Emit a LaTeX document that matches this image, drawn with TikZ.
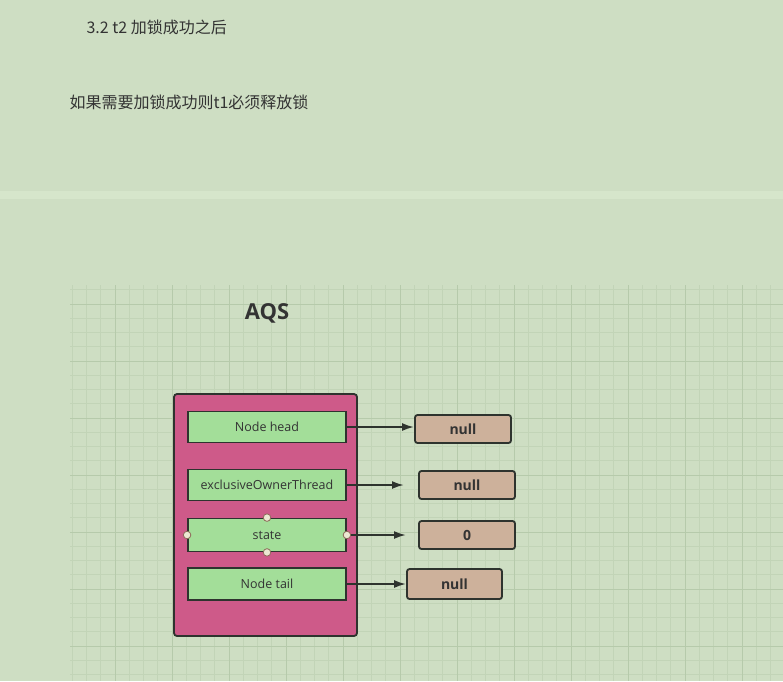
\documentclass[tikz,border=0pt]{standalone}
\usepackage{fontspec}
\setmainfont{Open Sans}
\newfontfamily\cjk{Noto Sans CJK SC}
\usetikzlibrary{arrows.meta}

\definecolor{paper}{HTML}{CEDEC3}
\definecolor{band}{HTML}{D6E6CB}
\definecolor{gridminor}{HTML}{C2D4B7}
\definecolor{gridmajor}{HTML}{B6CAAB}
\definecolor{linedark}{HTML}{2E332E}
\definecolor{textgray}{HTML}{333333}
\definecolor{aqspink}{HTML}{CE5A89}
\definecolor{fieldgreen}{HTML}{A3DE99}
\definecolor{valtan}{HTML}{CDB19B}
\definecolor{pinfill}{HTML}{ECE8D2}
\definecolor{pinedge}{HTML}{8C6A58}

\tikzset{
    field/.style={draw=linedark, fill=fieldgreen, line width=1.8pt, minimum width=158pt,
        minimum height=31pt, inner sep=0pt, text=textgray, font=\fontsize{12.5}{15}\selectfont},
    valbox/.style={draw=linedark, fill=valtan, rounded corners=2.5pt, line width=1.8pt,
        minimum width=96pt, minimum height=28pt, inner sep=0pt, text=textgray,
        font=\bfseries\fontsize{14}{16}\selectfont},
    ptr/.style={draw=linedark, line width=2pt, -{Latex[length=12pt,width=8pt]}},
    pinpt/.style={circle, draw=pinedge, fill=pinfill, line width=0.8pt, inner sep=0pt, minimum size=7.5pt}
}

\begin{document}
\begin{tikzpicture}[x=1pt,y=-1pt]
        % Define dimensions
        \def\gridleft{70}
        \def\gridtop{285}
        \def\minor{14.25}

        % Page background
        \fill[paper] (0,0) rectangle (783,681);
        \useasboundingbox (0,0) rectangle (783,681);
        \fill[band] (0,191) rectangle (783,199);

        % Header texts
        \node[anchor=west, text=textgray, font=\cjk\fontsize{16}{18}\selectfont] (title) at (83,27) {3.2 t2 加锁成功之后};
        \node[anchor=west, text=textgray, font=\cjk\fontsize{16}{18}\selectfont] (note) at (66,102) {如果需要加锁成功则t1必须释放锁};

        % Grid paper
        \begin{scope}
            \clip (\gridleft,\gridtop) rectangle (783,681);
            \foreach \i in {-3,...,47}
                \draw[gridminor, line width=0.8pt] (115+\i*\minor,\gridtop) -- (115+\i*\minor,681);
            \foreach \j in {-1,...,28}
                \draw[gridminor, line width=0.8pt] (\gridleft,304+\j*\minor) -- (783,304+\j*\minor);
            \foreach \i in {0,...,12}
                \draw[gridmajor, line width=1pt] (115+\i*57,\gridtop) -- (115+\i*57,681);
            \foreach \j in {0,...,7}
                \draw[gridmajor, line width=1pt] (\gridleft,304+\j*57) -- (783,304+\j*57);
        \end{scope}

        % AQS container
        \node[text=textgray, font=\bfseries\fontsize{22}{24}\selectfont] (aqs) at (267,313) {AQS};
        \draw[linedark, fill=aqspink, line width=1.8pt, rounded corners=3pt] (174,394) rectangle (357,636);

        % Fields
        \node[field] (head) at (267,427) {Node head};
        \node[field] (owner) at (267,485) {exclusiveOwnerThread};
        \node[field, minimum height=33pt] (state) at (267,535) {state};
        \node[field, minimum height=32pt] (tail) at (267,584) {Node tail};

        % Values
        \node[valbox] (headval) at (463,429) {null};
        \node[valbox] (ownerval) at (467,485) {null};
        \node[valbox] (stateval) at (467,535) {0};
        \node[valbox, minimum width=95pt, minimum height=30pt] (tailval) at (454.5,584) {null};

        % Pointers
        \coordinate (ownerend) at (404,485);
        \coordinate (stateend) at (406,535);
        \draw[ptr] (head.east) -- (head.east -| headval.west);
        \draw[ptr] (owner.east) -- (ownerend);
        \draw[ptr] (state.east) -- (stateend);
        \draw[ptr] (tail.east) -- (tailval.west);

        % Connection points on state
        \foreach \side in {north,south,west,east}
            \node[pinpt] (pin-\side) at (state.\side) {};
    \end{tikzpicture}
\end{document}
